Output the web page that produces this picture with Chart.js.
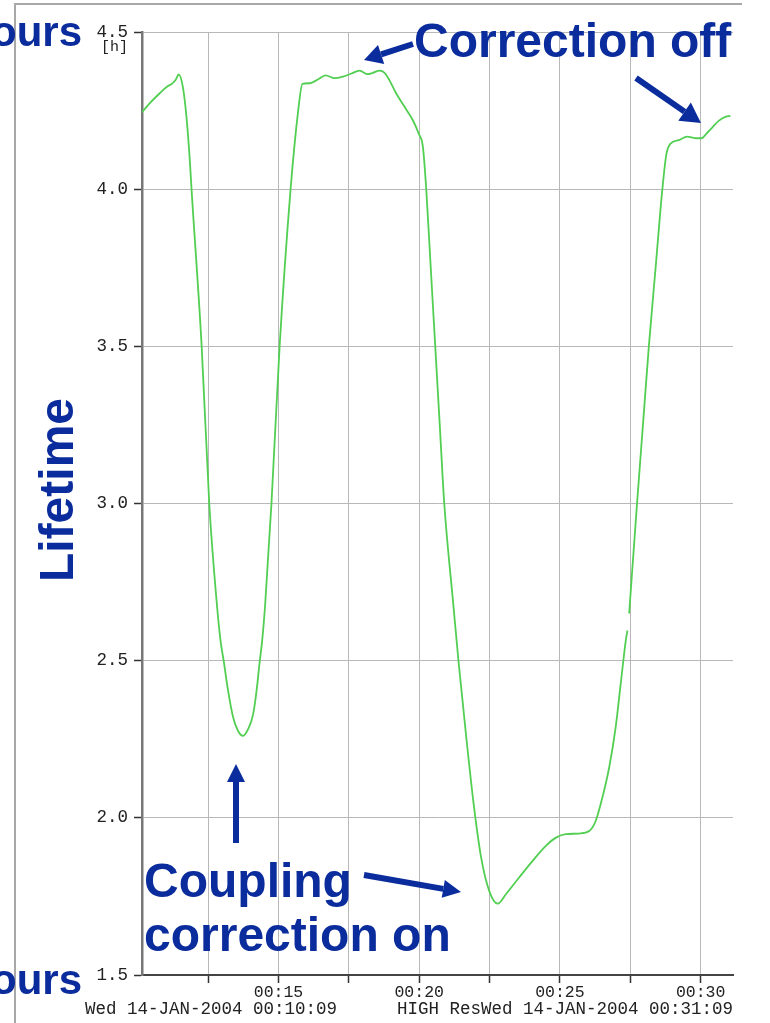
<!DOCTYPE html>
<html>
<head>
<meta charset="utf-8">
<script src="https://cdn.jsdelivr.net/npm/chart.js@4"></script>
<style>
  html, body { margin: 0; padding: 0; background: #fff; }
  #lifetime-chart { display: block; }
</style>
</head>
<body>
<canvas id="lifetime-chart" width="770" height="1023"></canvas>
<script>
/* Data: time in minutes after 00:00, lifetime in hours */
let times = [10.15, 10.43, 10.79, 11.07, 11.21, 11.36, 11.45, 11.60, 11.73, 11.85, 11.91, 12.27, 12.54, 12.82, 12.94, 13.06, 13.21, 13.39, 13.56, 13.74, 13.92, 14.10, 14.22, 14.33, 14.42, 14.52, 14.75, 15.04, 15.43, 15.70, 15.85, 16.11, 16.40, 16.67, 16.99, 17.29, 17.59, 17.88, 18.17, 18.35, 18.59, 18.77, 18.94, 19.18, 19.48, 19.77, 19.98, 20.13, 20.25, 20.41, 20.57, 20.73, 20.89, 21.20, 21.40, 21.66, 21.92, 22.20, 22.49, 22.79, 23.08, 23.55, 24.03, 24.50, 24.86, 25.21, 25.68, 26.04, 26.27, 26.51, 26.75, 26.98, 27.16, 27.34, 27.40, 27.43, 27.46, 27.74, 27.95, 28.16, 28.40, 28.64, 28.78, 28.93, 29.23, 29.52, 29.82, 30.03, 30.17, 30.41, 30.65, 30.88, 31.06]
let lifetime = [4.245, 4.274, 4.306, 4.328, 4.335, 4.35, 4.365, 4.326, 4.23, 4.09, 4.0, 3.5, 3.0, 2.67, 2.564, 2.495, 2.404, 2.319, 2.277, 2.261, 2.282, 2.33, 2.404, 2.495, 2.564, 2.67, 3.0, 3.5, 4.0, 4.25, 4.335, 4.337, 4.349, 4.362, 4.353, 4.358, 4.368, 4.377, 4.366, 4.37, 4.377, 4.37, 4.347, 4.305, 4.262, 4.22, 4.177, 4.135, 4.0, 3.75, 3.5, 3.25, 3.0, 2.69, 2.495, 2.267, 2.055, 1.874, 1.767, 1.727, 1.757, 1.81, 1.863, 1.911, 1.937, 1.948, 1.95, 1.958, 1.99, 2.065, 2.16, 2.288, 2.426, 2.564, 2.596, null, 2.65, 3.0, 3.25, 3.5, 3.75, 4.0, 4.11, 4.145, 4.156, 4.167, 4.162, 4.162, 4.173, 4.196, 4.218, 4.23, 4.233]

/* axis ticks */
let xTicks = [12.5, 15, 17.5, 20, 22.5, 25, 27.5, 30]
let xLabels = { 15: '00:15', 20: '00:20', 25: '00:25', 30: '00:30' }
let yTicks = [1.5, 2.0, 2.5, 3.0, 3.5, 4.0, 4.5]

let blue = '#0a2c9c'
let monoFont = '"Liberation Mono", "DejaVu Sans Mono", monospace'

// draws a thick arrow with a filled head
function drawArrow(ctx, x1, y1, x2, y2, headLen, headWidth) {
    let angle = Math.atan2(y2 - y1, x2 - x1)
    let bx = x2 - headLen * Math.cos(angle)
    let by = y2 - headLen * Math.sin(angle)
    ctx.save()
    ctx.strokeStyle = blue
    ctx.fillStyle = blue
    ctx.lineWidth = 6
    ctx.beginPath()
    ctx.moveTo(x1, y1)
    ctx.lineTo(bx, by)
    ctx.stroke()
    ctx.beginPath()
    ctx.moveTo(x2, y2)
    ctx.lineTo(bx + headWidth * Math.sin(angle), by - headWidth * Math.cos(angle))
    ctx.lineTo(bx - headWidth * Math.sin(angle), by + headWidth * Math.cos(angle))
    ctx.closePath()
    ctx.fill()
    ctx.restore()
}

let pagePlugin = {
    id: 'pageExtras',
    beforeDraw(chart) {
        let ctx = chart.ctx
        ctx.save()
        ctx.fillStyle = '#fff'
        ctx.fillRect(0, 0, chart.width, chart.height)
        // slide frame
        ctx.strokeStyle = '#a8a8a8'
        ctx.lineWidth = 2
        ctx.beginPath()
        ctx.moveTo(15, 1023)
        ctx.lineTo(15, 4)
        ctx.lineTo(742, 4)
        ctx.stroke()
        ctx.restore()
    },
    afterDraw(chart) {
        let ctx = chart.ctx
        let area = chart.chartArea
        ctx.save()

        // unit under top tick label
        ctx.fillStyle = '#222'
        ctx.font = '15px ' + monoFont
        ctx.textAlign = 'right'
        ctx.textBaseline = 'alphabetic'
        ctx.fillText('[h]', 128, 51)

        // date stamps under the axis
        ctx.font = '17.5px ' + monoFont
        ctx.textAlign = 'left'
        ctx.fillText('Wed 14-JAN-2004 00:10:09', 85, 1014)
        ctx.textAlign = 'right'
        ctx.fillText('HIGH ResWed 14-JAN-2004 00:31:09', area.right, 1014)

        // blue slide annotations
        ctx.fillStyle = blue
        ctx.font = 'bold 42px "Liberation Sans", Arial, sans-serif'
        ctx.textAlign = 'right'
        ctx.fillText('Hours', 82, 46)
        ctx.fillText('Hours', 82, 994)

        ctx.font = 'bold 48px "Liberation Sans", Arial, sans-serif'
        ctx.textAlign = 'left'
        ctx.fillText('Correction off', 414, 57)
        ctx.fillText('Coupling', 144, 897)
        ctx.fillText('correction on', 144, 951)

        ctx.save()
        ctx.translate(73, 490)
        ctx.rotate(-Math.PI / 2)
        ctx.textAlign = 'center'
        ctx.fillText('Lifetime', 0, 0)
        ctx.restore()

        drawArrow(ctx, 413, 44, 364, 60, 18, 10)
        drawArrow(ctx, 636, 78, 701, 123, 20, 11)
        drawArrow(ctx, 236, 843, 236, 764, 18, 9)
        drawArrow(ctx, 364, 875, 461, 892, 18, 9)

        ctx.restore()
    }
}

let ctx = document.querySelector('#lifetime-chart').getContext('2d')

let lifetimeChart = new Chart(ctx, {
    type: 'line',
    data: {
        datasets: [
            {
                data: times.map((t, i) => ({ x: t, y: lifetime[i] })),
                borderColor: '#52cf52',
                borderWidth: 1.8,
                pointRadius: 0,
                cubicInterpolationMode: 'monotone',
                spanGaps: false
            }
        ]
    },
    options: {
        responsive: false,
        animation: false,
        layout: { padding: { left: 0, right: 37, top: 32, bottom: 0 } },
        plugins: {
            legend: { display: false },
            tooltip: { enabled: false }
        },
        scales: {
            x: {
                type: 'linear',
                min: 10.15,
                max: 31.15,
                afterBuildTicks: (scale) => { scale.ticks = xTicks.map(v => ({ value: v })) },
                afterFit: (scale) => { scale.height = 48 },
                grid: { color: '#b8b8b8', lineWidth: 1, tickLength: 8, tickColor: '#333', tickWidth: 1.5 },
                border: { color: '#444', width: 2 },
                ticks: {
                    autoSkip: false,
                    maxRotation: 0,
                    padding: 0,
                    color: '#222',
                    font: { family: monoFont, size: 16.5 },
                    callback: (v) => xLabels[v] || ''
                }
            },
            y: {
                min: 1.5,
                max: 4.5,
                afterBuildTicks: (scale) => { scale.ticks = yTicks.map(v => ({ value: v })) },
                afterFit: (scale) => { scale.width = 142 },
                grid: { color: '#b8b8b8', lineWidth: 1, tickLength: 8, tickColor: '#333', tickWidth: 1.5 },
                border: { color: '#777', width: 2.5 },
                ticks: {
                    padding: 6,
                    color: '#222',
                    font: { family: monoFont, size: 17.5 },
                    callback: (v) => v.toFixed(1)
                }
            }
        }
    },
    plugins: [pagePlugin]
})
</script>
</body>
</html>
